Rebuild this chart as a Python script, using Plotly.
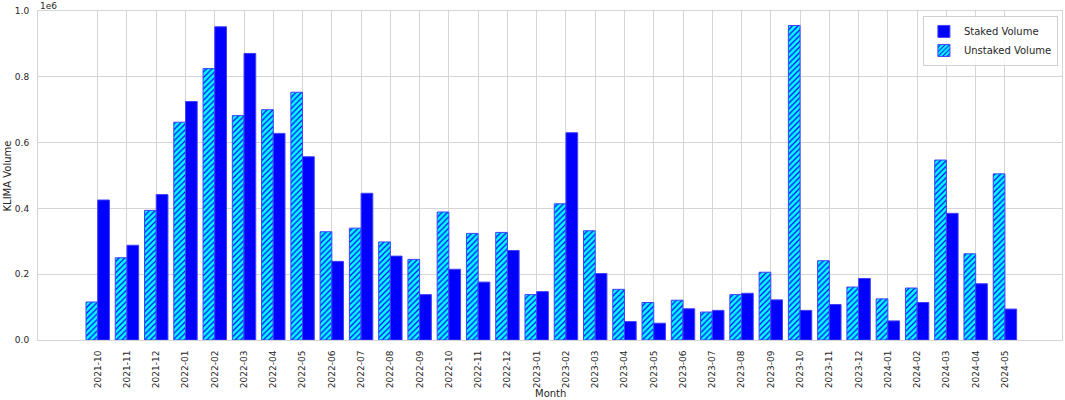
import plotly.graph_objects as go

months = ["2021-10", "2021-11", "2021-12", "2022-01", "2022-02", "2022-03", "2022-04",
          "2022-05", "2022-06", "2022-07", "2022-08", "2022-09", "2022-10", "2022-11",
          "2022-12", "2023-01", "2023-02", "2023-03", "2023-04", "2023-05", "2023-06",
          "2023-07", "2023-08", "2023-09", "2023-10", "2023-11", "2023-12", "2024-01",
          "2024-02", "2024-03", "2024-04", "2024-05"]

unstaked = [115500, 250000, 394000, 662000, 825000, 682000, 700000, 753000, 329000,
            340000, 298000, 245000, 389000, 324000, 327000, 138000, 414000, 332000,
            154000, 114000, 121000, 85000, 138000, 206000, 956000, 241000, 161000,
            125000, 158000, 547000, 262000, 505000]

staked = [425500, 288000, 442000, 725000, 952000, 871000, 628000, 557000, 239000,
          446000, 255000, 138000, 215000, 176000, 272000, 147000, 630000, 202000,
          56000, 51000, 95000, 90000, 142000, 122000, 90000, 108000, 187000,
          58000, 114000, 385000, 171000, 94000]

y_ticks = [0, 200000, 400000, 600000, 800000, 1000000]
y_tick_text = ["0.0", "0.2", "0.4", "0.6", "0.8", "1.0"]

FONT = "DejaVu Sans"
TXT = "#262626"
GRID = "#d5d5d5"

fig = go.Figure()
fig.add_trace(go.Bar(
    x=months, y=unstaked, name="Unstaked Volume", legendrank=2,
    marker=dict(color="#00ffff", line=dict(color="#4040ff", width=1),
                pattern=dict(shape="/", fgcolor="#0000ff", bgcolor="#00ffff",
                             size=4, solidity=0.3, fillmode="replace")),
))
fig.add_trace(go.Bar(
    x=months, y=staked, name="Staked Volume", legendrank=1,
    marker=dict(color="#0000ff", line=dict(color="#4040ff", width=1)),
))

fig.update_layout(
    width=1065, height=400,
    margin=dict(l=38, r=3, t=11, b=60),
    paper_bgcolor="white", plot_bgcolor="white",
    barmode="group", bargap=0.2, bargroupgap=0,
    font=dict(family=FONT, size=9, color=TXT),
    showlegend=True,
    legend=dict(x=0.996, y=0.985, xanchor="right", yanchor="top",
                bgcolor="rgba(255,255,255,0.85)", bordercolor="#d0d0d0", borderwidth=1,
                font=dict(family=FONT, size=10, color=TXT),
                itemwidth=30, tracegroupgap=0),
)
fig.update_xaxes(
    type="category", range=[-2.04, 32.95],
    tickangle=-90, ticklabelstandoff=6,
    showgrid=True, gridcolor=GRID, gridwidth=1,
    showline=True, linecolor=GRID, linewidth=1, mirror=True,
    ticks="", tickfont=dict(family=FONT, size=9, color=TXT),
)
fig.update_yaxes(
    range=[0, 1000000], tickvals=y_ticks, ticktext=y_tick_text,
    ticklabelstandoff=6,
    showgrid=True, gridcolor=GRID, gridwidth=1, zeroline=False,
    showline=True, linecolor=GRID, linewidth=1, mirror=True,
    ticks="", tickfont=dict(family=FONT, size=9, color=TXT),
)

fig.add_annotation(text="1e6", xref="paper", yref="paper", x=0.0, y=1.0,
                   xanchor="left", yanchor="bottom", yshift=-2, showarrow=False,
                   font=dict(family=FONT, size=9, color=TXT))
fig.add_annotation(text="Month", xref="paper", yref="paper", x=0.5, y=-0.164,
                   xanchor="center", yanchor="middle", showarrow=False,
                   font=dict(family=FONT, size=10, color=TXT))
fig.add_annotation(text="KLIMA Volume", xref="paper", yref="paper", x=-0.0293, y=0.5,
                   xanchor="center", yanchor="middle", textangle=-90, showarrow=False,
                   font=dict(family=FONT, size=10, color=TXT))

fig.write_html("out.html", config={"displayModeBar": False},
               post_script="document.body.style.margin='0';document.body.style.overflow='hidden';")
